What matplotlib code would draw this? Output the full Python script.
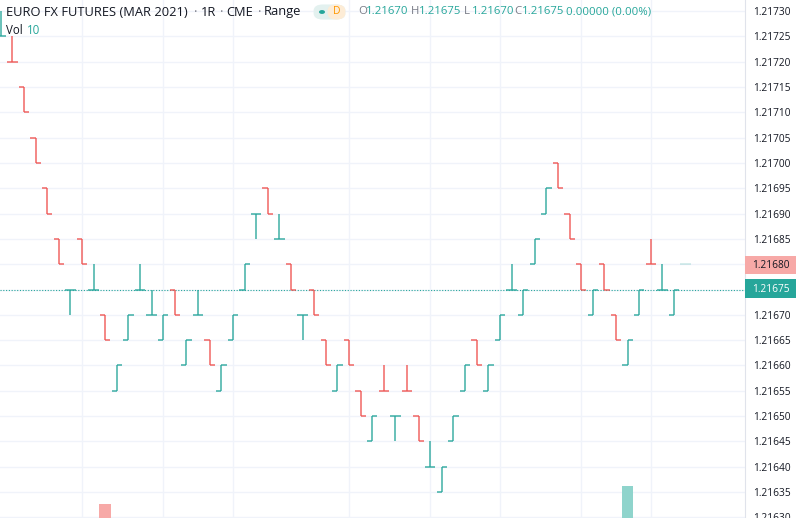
import numpy as np
import matplotlib
matplotlib.use("Agg")
import matplotlib.pyplot as plt
import matplotlib.transforms as mtransforms
from matplotlib.patches import FancyBboxPatch, Rectangle, Circle

plt.rcParams['font.family'] = ['Open Sans', 'DejaVu Sans']

# Range bars (1R), one row per bar, left to right
opens = [1.21725,
         1.21720, 1.21715, 1.21705, 1.21695, 1.21685, 1.21675, 1.21685, 1.21675, 1.21670, 1.21655,
         1.21665, 1.21675, 1.21670, 1.21665, 1.21675, 1.21660, 1.21670, 1.21665, 1.21655, 1.21665,
         1.21675, 1.21690, 1.21695, 1.21685, 1.21680, 1.21670, 1.21675, 1.21665, 1.21655, 1.21665,
         1.21655, 1.21645, 1.21655, 1.21650, 1.21655, 1.21650, 1.21640, 1.21635, 1.21645, 1.21655,
         1.21665, 1.21655, 1.21665, 1.21675, 1.21670, 1.21680, 1.21690, 1.21700, 1.21690, 1.21680,
         1.21670, 1.21680, 1.21670, 1.21660, 1.21670, 1.21680, 1.21675, 1.21670]
highs = [1.21730,
         1.21725, 1.21715, 1.21705, 1.21695, 1.21685, 1.21675, 1.21685, 1.21680, 1.21670, 1.21660,
         1.21670, 1.21680, 1.21675, 1.21670, 1.21675, 1.21665, 1.21675, 1.21665, 1.21660, 1.21670,
         1.21680, 1.21690, 1.21695, 1.21690, 1.21680, 1.21670, 1.21675, 1.21665, 1.21660, 1.21665,
         1.21655, 1.21650, 1.21660, 1.21650, 1.21660, 1.21650, 1.21645, 1.21640, 1.21650, 1.21660,
         1.21665, 1.21660, 1.21670, 1.21680, 1.21675, 1.21685, 1.21695, 1.21700, 1.21690, 1.21680,
         1.21675, 1.21680, 1.21670, 1.21665, 1.21675, 1.21685, 1.21680, 1.21675]
lows = [1.21725,
        1.21720, 1.21710, 1.21700, 1.21690, 1.21680, 1.21670, 1.21680, 1.21675, 1.21665, 1.21655,
        1.21665, 1.21675, 1.21670, 1.21665, 1.21670, 1.21660, 1.21670, 1.21660, 1.21655, 1.21665,
        1.21675, 1.21685, 1.21690, 1.21685, 1.21675, 1.21665, 1.21670, 1.21660, 1.21655, 1.21660,
        1.21650, 1.21645, 1.21655, 1.21645, 1.21655, 1.21645, 1.21640, 1.21635, 1.21645, 1.21655,
        1.21660, 1.21655, 1.21665, 1.21675, 1.21670, 1.21680, 1.21690, 1.21695, 1.21685, 1.21675,
        1.21670, 1.21675, 1.21665, 1.21660, 1.21670, 1.21680, 1.21675, 1.21670]
closes = [1.21725,
          1.21720, 1.21710, 1.21700, 1.21690, 1.21680, 1.21675, 1.21680, 1.21675, 1.21665, 1.21660,
          1.21670, 1.21675, 1.21670, 1.21670, 1.21670, 1.21665, 1.21670, 1.21660, 1.21660, 1.21670,
          1.21680, 1.21690, 1.21690, 1.21685, 1.21675, 1.21670, 1.21670, 1.21660, 1.21660, 1.21660,
          1.21650, 1.21650, 1.21655, 1.21650, 1.21655, 1.21645, 1.21640, 1.21640, 1.21650, 1.21660,
          1.21660, 1.21660, 1.21670, 1.21675, 1.21675, 1.21685, 1.21695, 1.21695, 1.21685, 1.21675,
          1.21675, 1.21675, 1.21665, 1.21665, 1.21675, 1.21680, 1.21675, 1.21675]
up = [1,
      0, 0, 0, 0, 0, 1, 0, 1, 0, 1,
      1, 1, 1, 1, 0, 1, 1, 0, 1, 1,
      1, 1, 0, 1, 0, 1, 0, 0, 1, 0,
      0, 1, 0, 1, 0, 0, 1, 1, 1, 1,
      0, 1, 1, 1, 1, 1, 1, 0, 0, 0,
      1, 0, 0, 1, 1, 0, 1, 1]
volume = [6,
          5, 7, 6, 8, 5, 4, 7, 6, 19, 5,
          6, 4, 5, 7, 6, 5, 4, 6, 5, 7,
          6, 5, 8, 6, 5, 7, 4, 6, 5, 8,
          7, 6, 5, 4, 6, 8, 7, 9, 6, 5,
          6, 5, 7, 6, 5, 8, 6, 7, 5, 6,
          4, 7, 6, 28, 5, 8, 6, 10]
bar_idx = np.arange(-1, len(opens) - 1)

# vertical grid (time marks), in bar index
vgrid = [6, 13, 19, 29, 36, 42, 49, 55]
price_ticks = np.round(np.arange(1.21630, 1.217301, 0.00005), 5)
last_price = 1.21675
prev_label = 1.21680

UP = '#26a69a'
DOWN = '#ef5350'

W, H = 796, 518
fig = plt.figure(figsize=(W / 100, H / 100), dpi=100)

def fx(x):
    return x / W

def fy(y):
    return 1 - y / H

axw = 745 / W
vax = fig.add_axes([0, 0, axw, 1])
ax = fig.add_axes([0, 0, axw, 1])
ax.set_zorder(vax.get_zorder() + 1)
ax.patch.set_visible(False)

x0 = -12.3 / 11.61
x1 = (745 - 12.3) / 11.61

# grid (drawn in the bottom axes, under the volume bars)
gtrans = mtransforms.blended_transform_factory(vax.transAxes, ax.transData)
for p in price_ticks:
    vax.plot([0, 1], [p, p], transform=gtrans, color='#f0f3fa', lw=1, zorder=0)
for g in vgrid:
    vax.axvline(g, color='#f0f3fa', lw=1, zorder=0)

# volume (only the tallest bars reach into view)
vcol = ['#8fd4cc' if u else '#f7a9a7' for u in up]
vax.bar(bar_idx, volume, width=1.0, color=vcol, linewidth=0, zorder=1)
vax.set_xlim(x0, x1)
vax.set_ylim(12, 12 + H / 2.0)
vax.axis('off')

# OHLC range bars
cols = [UP if u else DOWN for u in up]
hw = 0.45
ax.vlines(bar_idx, lows, highs, colors=cols, lw=1.3, alpha=0.75, zorder=3)
ax.hlines(opens, bar_idx - hw, bar_idx, colors=cols, lw=1.3, alpha=0.75, zorder=3)
ax.hlines(closes, bar_idx, bar_idx + hw, colors=cols, lw=1.3, alpha=0.75, zorder=3)
# forming bar ghost
ax.hlines(prev_label, len(opens) - 1.5, len(opens) - 0.5, colors=UP, lw=1.3, alpha=0.2, zorder=3)

# last price line
ax.axhline(last_price, color=UP, lw=0.8, ls=(0, (1, 1.5)), zorder=2)

ax.set_xticks([])
ax.set_yticks(price_ticks)
ax.set_yticklabels(['' if p in (last_price, prev_label) else f'{p:.5f}' for p in price_ticks])
ax.yaxis.tick_right()
ax.tick_params(axis='y', length=0, pad=6, labelsize=7.3, labelcolor='#131722')
for s in ['top', 'bottom', 'left']:
    ax.spines[s].set_visible(False)
ax.spines['right'].set_color('#e0e3eb')
ax.set_xlim(x0, x1)
ax.set_ylim(1.21730 - 507 / 25.32 * 0.00005, 1.21730 + 11 / 25.32 * 0.00005)

# price labels on the axis
fig.patches.append(Rectangle((fx(745), fy(274)), fx(51), 18 / H, transform=fig.transFigure,
                             fc='#f7a9a7', ec='none', zorder=5))
fig.patches.append(Rectangle((fx(745), fy(298)), fx(51), 19 / H, transform=fig.transFigure,
                             fc=UP, ec='none', zorder=5))
fig.text(fx(752), fy(265), f'{prev_label:.5f}', fontsize=7.3, color='#131722', va='center', zorder=7)
fig.text(fx(752), fy(289), f'{last_price:.5f}', fontsize=7.3, color='white', va='center', zorder=7)

# header
hy = fy(12)
fs = 9.3
fig.text(fx(6), hy, 'EURO FX FUTURES (MAR 2021)', fontsize=fs, color='#131722', va='center')
fig.text(fx(194), hy, '·', fontsize=fs, color='#787b86', va='center')
fig.text(fx(201), hy, '1R', fontsize=fs, color='#131722', va='center')
fig.text(fx(220), hy, '·', fontsize=fs, color='#787b86', va='center')
fig.text(fx(226), hy, 'CME', fontsize=fs, color='#131722', va='center')
fig.text(fx(258), hy, '·', fontsize=fs, color='#787b86', va='center')
fig.text(fx(264), hy, 'Range', fontsize=fs, color='#131722', va='center')

fig.patches.append(FancyBboxPatch((fx(316), fy(18)), fx(27), 12 / H,
                                  boxstyle='round,pad=0.003,rounding_size=0.012',
                                  transform=fig.transFigure, fc='#e3f1ef', ec='none'))
fig.patches.append(FancyBboxPatch((fx(330), fy(18)), fx(13), 12 / H,
                                  boxstyle='round,pad=0.003,rounding_size=0.012',
                                  transform=fig.transFigure, fc='#fdecd6', ec='none'))
fig.patches.append(Circle((fx(322), fy(12)), 3 / W, transform=fig.transFigure, fc=UP, ec='none'))
fig.text(fx(337), hy, 'D', fontsize=7.5, color='#ff9800', va='center', ha='center')

vs = 8.2
ohlc = [('O', '1.21670', 358), ('H', '1.21675', 411), ('L', '1.21670', 464), ('C', '1.21675', 514)]
for lab, val, xx in ohlc:
    fig.text(fx(xx), hy, lab, fontsize=vs, color='#787b86', va='center')
    fig.text(fx(xx + 8), hy, val, fontsize=vs, color=UP, va='center')
fig.text(fx(566), hy, '0.00000 (0.00%)', fontsize=vs, color=UP, va='center')

fig.text(fx(6), fy(30), 'Vol', fontsize=8.3, color='#131722', va='center')
fig.text(fx(27), fy(30), '10', fontsize=8.3, color=UP, va='center')

fig.savefig('out.png', dpi=100)
